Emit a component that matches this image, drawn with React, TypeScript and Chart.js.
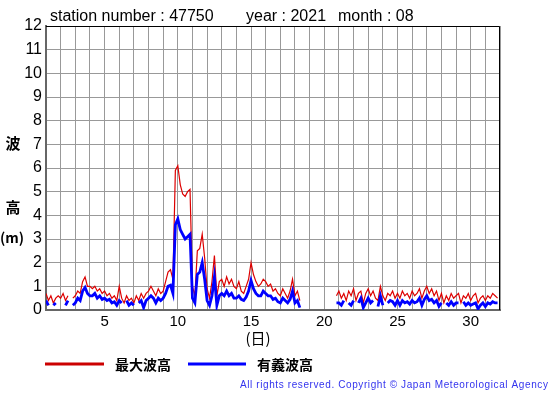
import React, { useEffect, useRef } from "react";
import { Chart, registerables } from "chart.js";

Chart.register(...registerables);

const stationNumber = "47750";
const year = "2021";
const month = "08";
const samplesPerDay = 6; // every 4 hours
const xTickLabels = [5, 10, 15, 20, 25, 30];
const legendLabels = ["最大波高", "有義波高"];

const _ = null;
// 最大波高 (m), 4-hourly from Aug 1 00:00
const maxWave: (number | null)[] = [
  0.7, 0.4, 0.6, 0.3, 0.5, 0.6,
  0.5, 0.7, 0.4, 0.6, _, 0.5,
  0.6, 0.8, 0.7, 1.2, 1.4, 1.0,
  1.0, 0.9, 1.0, 0.8, 0.9, 0.7,
  0.8, 0.6, 0.7, 0.5, 0.6, 0.4,
  1.0, 0.5, 0.3, 0.6, 0.4, 0.5,
  0.3, 0.6, 0.4, 0.7, 0.5, 0.7,
  0.8, 1.0, 0.8, 0.6, 0.9, 0.7,
  0.8, 1.2, 1.6, 1.7, 1.3, 5.9,
  6.1, 5.3, 4.9, 4.8, 5.0, 5.1,
  1.0, 0.6, 2.5, 2.6, 3.2, 2.2,
  0.9, 0.5, 1.2, 2.3, 0.6, 1.2,
  1.3, 1.0, 1.4, 1.1, 1.3, 1.0,
  0.9, 1.2, 0.8, 0.7, 1.0, 1.3,
  2.0, 1.5, 1.2, 1.0, 1.1, 1.3,
  1.2, 1.0, 1.1, 0.8, 0.9, 0.7,
  0.6, 0.9, 0.7, 0.5, 0.8, 1.3,
  0.6, 0.8, 0.4, _, _, _,
  _, _, _, _, _, _,
  _, _, _, _, _, 0.6,
  0.8, 0.5, 0.7, 0.4, 0.8, 0.6,
  0.9, 0.4, 0.7, 0.8, 0.3, 0.7,
  0.9, 0.6, 0.8, 0.5, 0.4, 1.0,
  0.6, 0.4, 0.7, 0.6, 0.8, 0.5,
  0.7, 0.5, 0.8, 0.6, 0.7, 0.5,
  0.8, 0.6, 0.7, 0.9, 0.5, 0.8,
  1.0, 0.7, 0.9, 0.6, 0.8, 0.4,
  0.7, 0.3, 0.6, 0.4, 0.7, 0.5,
  0.6, 0.7, 0.3, 0.6, 0.5, 0.7,
  0.4, 0.6, 0.7, 0.3, 0.5, 0.6,
  0.4, 0.6, 0.5, 0.7, 0.6, 0.5,
];
// 有義波高 (m)
const sigWave: (number | null)[] = [
  0.4, 0.2, _, 0.2, 0.3, _,
  0.3, _, 0.2, 0.4, _, 0.2,
  0.3, 0.5, 0.4, 0.8, 0.95, 0.7,
  0.6, 0.6, 0.7, 0.5, 0.6, 0.45,
  0.5, 0.4, 0.45, 0.3, 0.35, 0.2,
  0.4, 0.3, _, 0.4, 0.2, 0.3,
  0.2, _, 0.3, 0.4, 0.1, 0.4,
  0.5, 0.6, 0.5, 0.3, 0.5, 0.4,
  0.5, 0.7, 1.0, 1.05, 0.7, 3.6,
  3.85, 3.4, 3.2, 3.0, 3.1, 3.2,
  0.5, 0.3, 1.5, 1.6, 2.0, 1.3,
  0.4, 0.2, 0.6, 1.4, 0.2, 0.6,
  0.7, 0.6, 0.8, 0.6, 0.7, 0.5,
  0.5, 0.6, 0.45, 0.4, 0.55, 0.8,
  1.25, 0.9, 0.7, 0.6, 0.6, 0.8,
  0.7, 0.6, 0.6, 0.45, 0.5, 0.35,
  0.3, 0.5, 0.4, 0.3, 0.45, 0.8,
  0.3, 0.4, 0.1, _, _, _,
  _, _, _, _, _, _,
  _, _, _, _, _, 0.3,
  0.3, 0.2, 0.4, _, 0.3, 0.2,
  0.4, _, 0.3, 0.5, 0.1, 0.3,
  0.5, 0.3, 0.4, _, 0.15, 0.6,
  0.2, _, 0.3, 0.4, 0.35, 0.2,
  0.4, 0.2, 0.4, 0.3, 0.35, 0.25,
  0.4, 0.3, 0.35, 0.5, 0.2, 0.45,
  0.6, 0.4, 0.45, 0.3, 0.4, 0.15,
  0.3, _, 0.3, 0.2, 0.35, 0.2,
  0.3, 0.3, _, 0.35, 0.2, 0.3,
  0.2, 0.25, 0.3, 0.05, 0.2, 0.3,
  0.15, 0.3, 0.25, 0.35, 0.3, 0.3,
];

const RED = "#dd0000";
const BLUE = "#0000ff";
const FONT = "'Liberation Sans', Arial, sans-serif";
const JP = "'Noto Sans CJK JP', sans-serif";

const toPoints = (vals: (number | null)[]) =>
  vals.map((v, i) => ({ x: 1 + i / samplesPerDay, y: v }));

const decor = {
  id: "decor",
  afterDraw(chart: any) {
    const ctx = chart.ctx as CanvasRenderingContext2D;
    const a = chart.chartArea;
    ctx.save();
    // frame top/right
    ctx.strokeStyle = "#000";
    ctx.lineWidth = 1;
    ctx.beginPath();
    ctx.moveTo(a.left, a.top + 0.5);
    ctx.lineTo(a.right - 0.5, a.top + 0.5);
    ctx.lineTo(a.right - 0.5, a.bottom);
    ctx.stroke();
    // title
    ctx.fillStyle = "#000";
    ctx.font = `16px ${FONT}`;
    ctx.textBaseline = "alphabetic";
    ctx.textAlign = "left";
    ctx.fillText(`station number : ${stationNumber}`, 50, 21);
    ctx.fillText(`year : ${year}`, 246, 21);
    ctx.fillText(`month : ${month}`, 338, 21);
    // y-axis title
    ctx.font = `bold 15px ${JP}`;
    ctx.textAlign = "center";
    ctx.textBaseline = "middle";
    ctx.fillText("波", 13, 143);
    ctx.fillText("高", 13, 207);
    ctx.font = `bold 14px ${JP}`;
    ctx.fillText("(m)", 12, 238);
    // x-axis title
    ctx.font = `15px ${JP}`;
    ctx.fillText("(日)", 258, 338);
    // legend
    ctx.lineWidth = 3;
    ctx.strokeStyle = "#cc0000";
    ctx.beginPath();
    ctx.moveTo(45, 364);
    ctx.lineTo(104, 364);
    ctx.stroke();
    ctx.strokeStyle = BLUE;
    ctx.beginPath();
    ctx.moveTo(188, 364);
    ctx.lineTo(246, 364);
    ctx.stroke();
    ctx.font = `bold 14px ${JP}`;
    ctx.textAlign = "left";
    ctx.fillText(legendLabels[0], 115, 365);
    ctx.fillText(legendLabels[1], 257, 365);
    // copyright
    const cp = "All rights reserved. Copyright © Japan Meteorological Agency";
    ctx.font = `10px ${FONT}`;
    ctx.fillStyle = "#3333ee";
    const w = ctx.measureText(cp).width;
    const spacing = (308 - w) / (cp.length - 1);
    (ctx as any).letterSpacing = `${spacing.toFixed(2)}px`;
    ctx.fillText(cp, 240, 385);
    ctx.restore();
  },
};

export default function App() {
  const ref = useRef<HTMLCanvasElement>(null);
  useEffect(() => {
    document.body.style.margin = "0";
    const chart = new Chart(ref.current!, {
      type: "line",
      data: {
        datasets: [
          {
            label: legendLabels[1],
            data: toPoints(sigWave),
            borderColor: BLUE,
            borderWidth: 2.8,
            pointRadius: 0,
            spanGaps: false,
            tension: 0,
          },
          {
            label: legendLabels[0],
            data: toPoints(maxWave),
            borderColor: RED,
            borderWidth: 1.2,
            pointRadius: 0,
            spanGaps: false,
            tension: 0,
          },
        ],
      },
      options: {
        responsive: false,
        animation: false,
        layout: { padding: { left: 0, top: 26, right: 55, bottom: 0 } },
        plugins: { legend: { display: false }, tooltip: { enabled: false } },
        scales: {
          x: {
            type: "linear",
            min: 1,
            max: 32,
            afterBuildTicks: (s: any) => {
              const t = [];
              for (let d = 1; d <= 32; d++) t.push({ value: d });
              s.ticks = t;
            },
            afterFit: (s: any) => {
              s.height = 85;
            },
            ticks: {
              autoSkip: false,
              maxRotation: 0,
              padding: 3,
              color: "#000",
              font: { family: FONT, size: 15 },
              callback: (v: any) => (xTickLabels.includes(v) ? String(v) : ""),
            },
            grid: { color: "#999", lineWidth: 1, drawTicks: false },
            border: { display: true, color: "#666", width: 2 },
          },
          y: {
            min: 0,
            max: 12,
            afterFit: (s: any) => {
              s.width = 46;
            },
            ticks: {
              stepSize: 1,
              padding: 4,
              color: "#000",
              font: { family: FONT, size: 16 },
            },
            grid: { color: "#999", lineWidth: 1, drawTicks: false },
            border: { display: true, color: "#666", width: 2 },
          },
        },
      },
      plugins: [decor],
    });
    return () => chart.destroy();
  }, []);
  return <canvas ref={ref} width={555} height={395} style={{ display: "block" }} />;
}
